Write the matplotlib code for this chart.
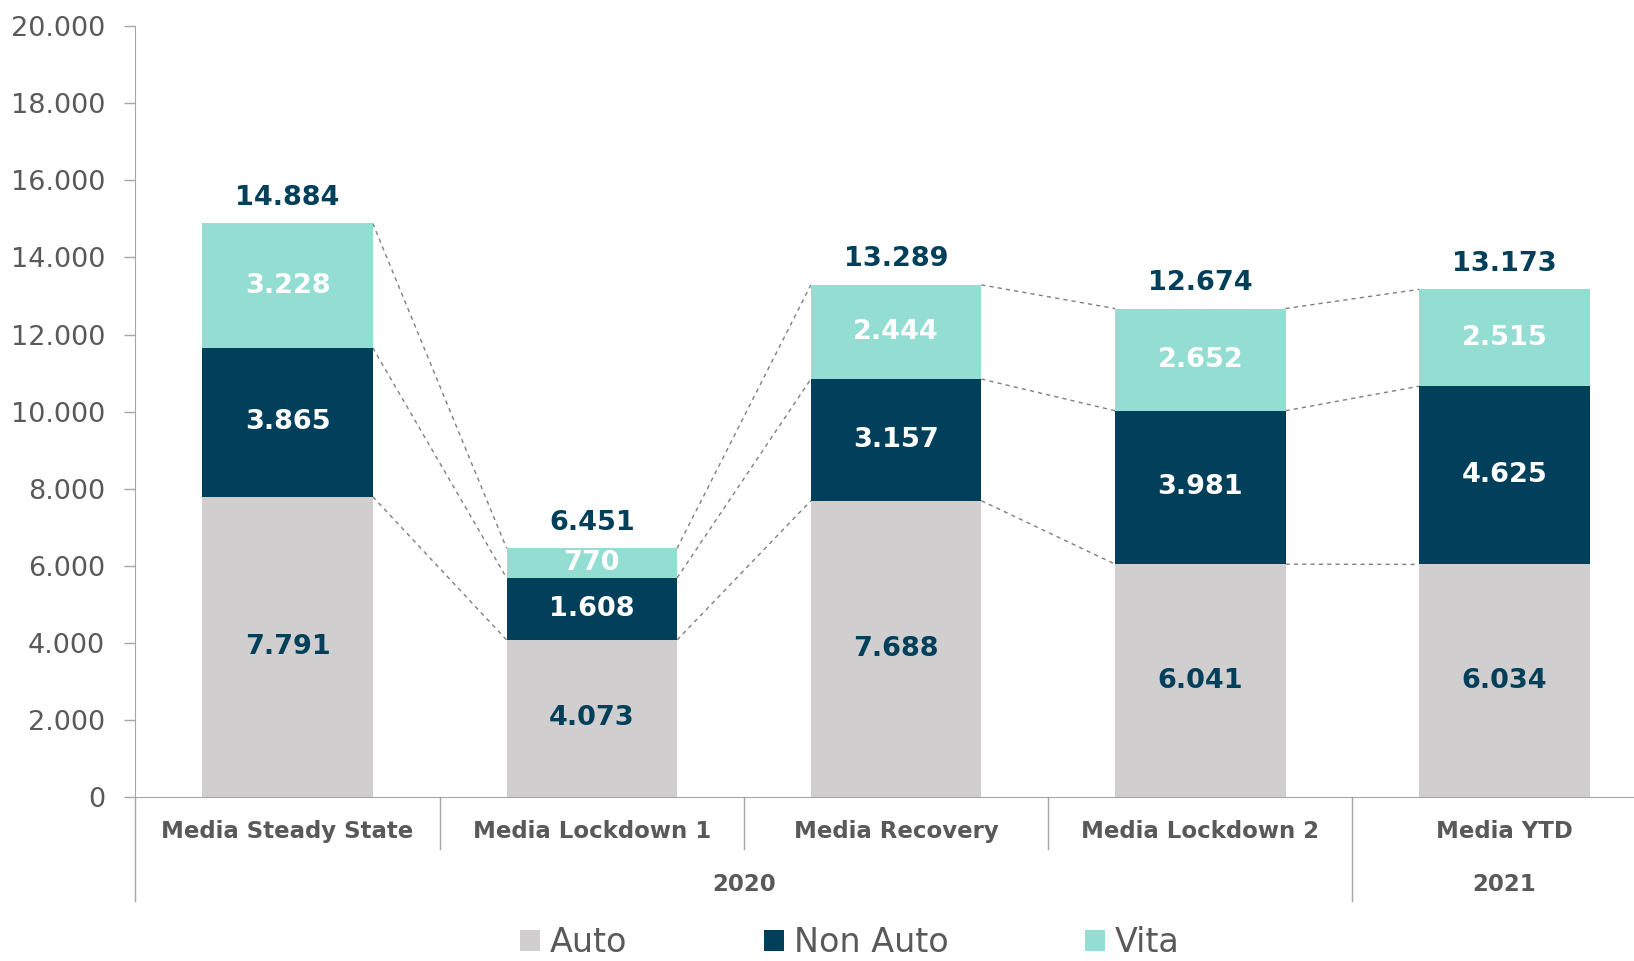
import matplotlib.pyplot as plt
import numpy as np

categories = ["Media Steady State", "Media Lockdown 1", "Media Recovery", "Media Lockdown 2", "Media YTD"]
years = ["2020", "2021"]
auto = [7791, 4073, 7688, 6041, 6034]
non_auto = [3865, 1608, 3157, 3981, 4625]
vita = [3228, 770, 2444, 2652, 2515]
totals = [14884, 6451, 13289, 12674, 13173]
series_names = ["Auto", "Non Auto", "Vita"]

c_auto = "#D0CECE"
c_non = "#013F5A"
c_vita = "#94DDD2"
c_text = "#595959"
c_axis = "#A6A6A6"

plt.rcParams['font.family'] = ['DejaVu Sans']


def fmt(v):
    return f"{v:,}".replace(",", ".")


fig = plt.figure(figsize=(16.34, 9.61), dpi=100)
ax = fig.add_axes([0.0829, 0.1707, 0.931, 0.802])

x = np.arange(len(categories))
w = 0.56
auto = np.array(auto)
non_auto = np.array(non_auto)
vita = np.array(vita)

ax.bar(x, auto, w, color=c_auto, label=series_names[0], zorder=2)
ax.bar(x, non_auto, w, bottom=auto, color=c_non, label=series_names[1], zorder=2)
ax.bar(x, vita, w, bottom=auto + non_auto, color=c_vita, label=series_names[2], zorder=2)

# dashed connectors between bars
levels = [auto, auto + non_auto, auto + non_auto + vita]
for lv in levels:
    for i in range(len(x) - 1):
        ax.plot([x[i] + w / 2, x[i + 1] - w / 2], [lv[i], lv[i + 1]],
                ls=(0, (3, 3)), color="#7F7F7F", lw=1, zorder=1)

# labels
vs = 19.5
for i in range(len(x)):
    ax.text(x[i], auto[i] / 2, fmt(auto[i]), ha='center', va='center',
            color=c_non, fontsize=vs, fontweight='bold')
    ax.text(x[i], auto[i] + non_auto[i] / 2, fmt(non_auto[i]), ha='center', va='center',
            color='white', fontsize=vs, fontweight='bold')
    ax.text(x[i], auto[i] + non_auto[i] + vita[i] / 2, fmt(vita[i]), ha='center', va='center',
            color='white', fontsize=vs, fontweight='bold')
    ax.annotate(fmt(totals[i]), (x[i], totals[i]), xytext=(0, 9), textcoords='offset points',
                ha='center', va='bottom', color=c_non, fontsize=vs, fontweight='bold')

ax.set_xlim(-0.5, 4.5)
ax.set_ylim(0, 20000)
ax.set_yticks(range(0, 20001, 2000))
ax.set_yticklabels([fmt(v) for v in range(0, 20001, 2000)], color=c_text, fontsize=19.5)
ax.tick_params(axis='y', length=8, width=1, color=c_axis, pad=14)
ax.set_xticks([])

for s in ['top', 'right']:
    ax.spines[s].set_visible(False)
ax.spines['left'].set_color(c_axis)
ax.spines['bottom'].set_color(c_axis)

trans = ax.get_xaxis_transform()
for i, cat in enumerate(categories):
    ax.text(x[i], -0.045, cat, transform=trans, ha='center', va='center',
            color=c_text, fontsize=16.5, fontweight='bold')
ax.text(1.5, -0.113, years[0], transform=trans, ha='center', va='center',
        color=c_text, fontsize=16.5, fontweight='bold')
ax.text(4.0, -0.113, years[1], transform=trans, ha='center', va='center',
        color=c_text, fontsize=16.5, fontweight='bold')

# separators
for b in [0.5, 1.5, 2.5]:
    ax.plot([b, b], [0, -0.068], transform=trans, color=c_axis, lw=1, clip_on=False)
for b in [-0.5, 3.5]:
    ax.plot([b, b], [0, -0.135], transform=trans, color=c_axis, lw=1, clip_on=False)

fig.legend(loc='lower center', bbox_to_anchor=(0.520, -0.019), ncol=3, frameon=False,
           fontsize=24, handlelength=0.6, handleheight=0.6, handletextpad=0.3,
           columnspacing=4.1, labelcolor=c_text, borderpad=0.1)

fig.savefig("out.png", dpi=100)
